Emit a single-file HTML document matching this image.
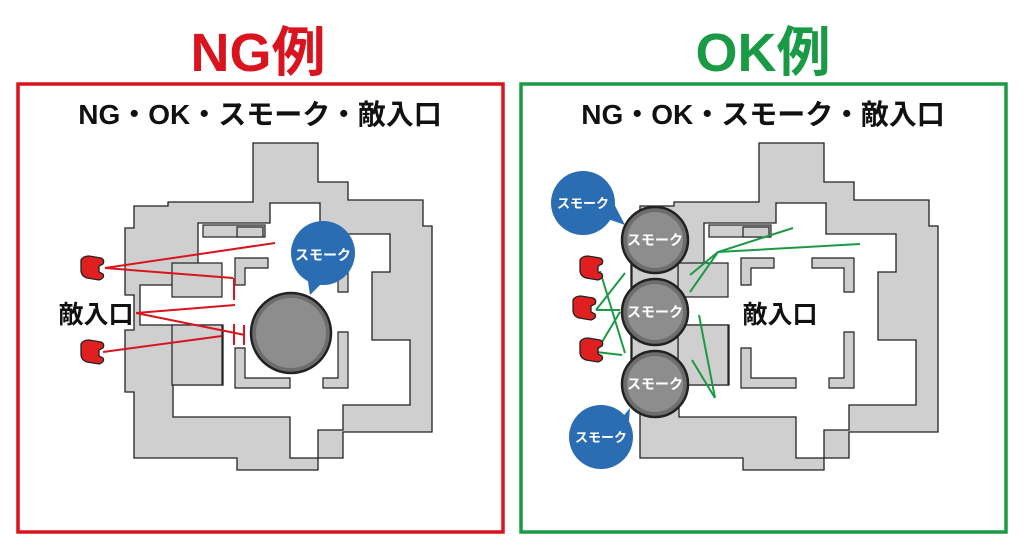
<!DOCTYPE html>
<html><head><meta charset="utf-8"><style>
html,body{margin:0;padding:0;background:#fff;width:1024px;height:547px;overflow:hidden}
text{font-family:"Liberation Sans","Noto Sans CJK JP",sans-serif;font-weight:bold}
</style></head><body>
<svg width="1024" height="547" viewBox="0 0 1024 547" xmlns="http://www.w3.org/2000/svg">
<defs>
<g id="map">
  <path d="M253,143 L318,143 L318,182 L348,182 L348,200 L423,200 L423,226 L432,226 L432,432 L343,432 L343,458 L318,458 L318,470 L237,470 L237,458 L134,458 L134,392 L125,392 L125,330 L134,330 L134,295 L125,295 L125,228 L134,228 L134,206 L168,206 L168,202 L253,202 Z" fill="#cfcfcf" stroke="#222" stroke-width="1.3"/>
  <path d="M198,223 L270,223 L270,203 L320,203 L320,234 L390,234 L390,272 L372,272 L372,340 L410,340 L410,405 L343,405 L343,430 L318,430 L318,458 L290,458 L290,417 L173,417 L173,385 L223,385 L223,325 L140,325 L140,285 L198,285 Z" fill="#fff" stroke="#222" stroke-width="1.3"/>
  <rect x="203" y="225" width="62" height="12" fill="#cfcfcf" stroke="#222" stroke-width="1.2"/>
  <rect x="237" y="227" width="26" height="10" fill="#cfcfcf" stroke="#222" stroke-width="1.2"/>
  <rect x="172" y="263" width="50" height="34" fill="#cfcfcf" stroke="#222" stroke-width="1.2"/>
  <rect x="172" y="325" width="50" height="60" fill="#cfcfcf" stroke="#222" stroke-width="1.2"/>
  <path d="M235,258 L268,258 L268,268 L245,268 L245,285 L235,285 Z" fill="#cfcfcf" stroke="#222" stroke-width="1.2"/>
  <path d="M235,348 L245,348 L245,378 L290,378 L290,388 L235,388 Z" fill="#cfcfcf" stroke="#222" stroke-width="1.2"/>
  <path d="M338,332 L348,332 L348,388 L323,388 L323,378 L338,378 Z" fill="#cfcfcf" stroke="#222" stroke-width="1.2"/>
  <path d="M306,258 L348,258 L348,292 L338,292 L338,268 L306,268 Z" fill="#cfcfcf" stroke="#222" stroke-width="1.2"/>
</g>
<g id="enemy"><path d="M-12,-8 Q-10,-12 -4,-12 L8,-10 Q12,-8 10,-4 L6,-2 L6,4 L10,6 Q12,10 6,12 L-6,10 Q-12,8 -12,2 Z" fill="#e02020" stroke="#222" stroke-width="1.3"/></g>
<g id="smk"><circle r="33" fill="#6d6d6d" stroke="#222" stroke-width="2.5"/><circle r="28" fill="#8d8d8d"/></g>
</defs>

<text x="258" y="71" font-size="54" fill="#d9141e" text-anchor="middle">NG例</text>
<text x="763" y="71" font-size="54" fill="#1b9a45" text-anchor="middle">OK例</text>
<rect x="18" y="84" width="485" height="448" fill="none" stroke="#d9141e" stroke-width="3.5"/>
<rect x="521" y="84" width="485" height="448" fill="none" stroke="#1b9a45" stroke-width="3.5"/>
<text x="260" y="124" font-size="28" fill="#111" text-anchor="middle">NG・OK・スモーク・敵入口</text>
<text x="763" y="124" font-size="28" fill="#111" text-anchor="middle">NG・OK・スモーク・敵入口</text>

<use href="#map"/>
<use href="#map" transform="translate(506,0)"/>

<g stroke="#d9141e" stroke-width="2" fill="none">
<path d="M105,268 L275,243 M105,268 L233,278 M136,313 L235,305 M136,313 L245,335 M103,352 L222,336"/>
<path d="M234,278 L234,300 M234,324 L234,345 M244,325 L244,345"/>
</g>
<use href="#enemy" x="93" y="268"/>
<use href="#enemy" x="93" y="352"/>
<text x="96" y="323" font-size="25" fill="#111" text-anchor="middle">敵入口</text>
<g transform="translate(291,333)"><circle r="40" fill="#6d6d6d" stroke="#222" stroke-width="2.5"/><circle r="35" fill="#8d8d8d"/></g>
<path d="M307,275 L310,295 L322,283 Z" fill="#2a6db3"/>
<circle cx="323" cy="253" r="32" fill="#2a6db3"/>
<text x="323" y="260" font-size="14" fill="#fff" text-anchor="middle">スモーク</text>

<rect x="632" y="240" width="46" height="144" fill="#cfcfcf" stroke="#222" stroke-width="1.2"/>
<g stroke="#1b9a45" stroke-width="2" fill="none">
<path d="M600,271 L625,353 M596,310 L625,273 M596,310 L620,310 M596,352 L622,355 M596,352 L620,312 M690,275 L718,252 L793,228 M690,292 L718,252 L860,244 M699,315 L715,398 M692,360 L715,398"/>
</g>
<use href="#enemy" x="592" y="268"/>
<use href="#enemy" x="585" y="308"/>
<use href="#enemy" x="592" y="350"/>
<use href="#smk" x="655" y="240"/>
<use href="#smk" x="655" y="312"/>
<use href="#smk" x="655" y="384"/>
<g fill="#fff" font-size="14" text-anchor="middle">
<text x="655" y="245">スモーク</text><text x="655" y="317">スモーク</text><text x="655" y="389">スモーク</text>
</g>
<path d="M605,218 L625,225 L612,200 Z" fill="#2a6db3"/>
<circle cx="583" cy="203" r="32" fill="#2a6db3"/>
<path d="M620,420 L630,408 L628,432 Z" fill="#2a6db3"/>
<circle cx="601" cy="437" r="32" fill="#2a6db3"/>
<g fill="#fff" font-size="13" text-anchor="middle">
<text x="583" y="208">スモーク</text><text x="601" y="442">スモーク</text>
</g>
<text x="780" y="323" font-size="25" fill="#111" text-anchor="middle">敵入口</text>
</svg>
</body></html>
